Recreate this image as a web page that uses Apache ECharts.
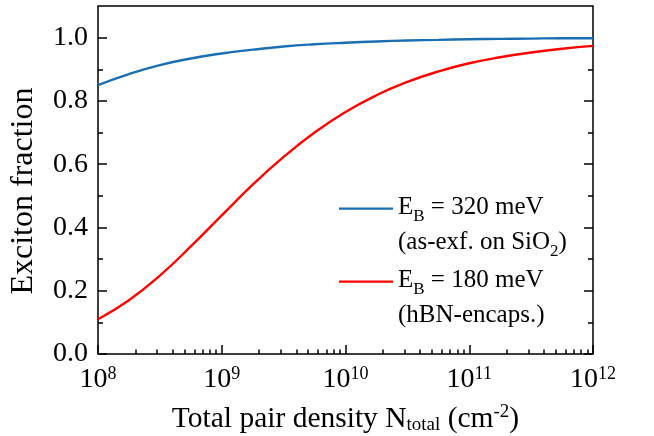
<!DOCTYPE html>
<html>
<head>
<meta charset="utf-8">
<script src="https://cdn.jsdelivr.net/npm/echarts@6/dist/echarts.min.js"></script>
<style>
html,body{margin:0;padding:0;background:#fff;}
#c{width:654px;height:436px;}
</style>
</head>
<body>
<div id="c"></div>
<script>
// Data
const density = [1e8, 1.778e8, 3.162e8, 5.623e8, 1e9, 1.778e9, 3.162e9, 5.623e9, 1e10, 1.778e10, 3.162e10, 5.623e10, 1e11, 1.778e11, 3.162e11, 5.623e11, 1e12];
const fracEB320 = [0.850, 0.885, 0.913, 0.934, 0.950, 0.962, 0.972, 0.979, 0.984, 0.988, 0.991, 0.993, 0.995, 0.996, 0.997, 0.998, 0.998];
const fracEB180 = [0.110, 0.170, 0.248, 0.340, 0.438, 0.535, 0.623, 0.700, 0.765, 0.818, 0.860, 0.893, 0.919, 0.938, 0.953, 0.965, 0.974];
const seriesNames = ['EB320', 'EB180'];
const yMajorTicks = [0, 0.2, 0.4, 0.6, 0.8, 1.0];
const yMinorTicks = [0.1, 0.3, 0.5, 0.7, 0.9];
const xMinorTicks = [];
[8, 9, 10, 11].forEach(function (e) { for (let k = 2; k <= 9; k++) xMinorTicks.push(k * Math.pow(10, e)); });

const FONT = '"Liberation Serif", "Times New Roman", serif';
const BLUE = '#1a6fb3';
const RED = '#ff0000';

const chart = echarts.init(document.getElementById('c'), null, {renderer: 'canvas'});
const gridRect = {left: 98, right: 61, top: 6, bottom: 82, containLabel: false, outerBoundsMode: 'none'};

const legendText = {
  EB320: 'E{sub|B} = 320 meV\n(as-exf. on SiO{sub|2})',
  EB180: 'E{sub|B} = 180 meV\n(hBN-encaps.)'
};

const option = {
  animation: false,
  backgroundColor: '#fff',
  textStyle: {fontFamily: FONT},
  grid: [
    Object.assign({show: true, borderColor: '#000', borderWidth: 1.5, backgroundColor: 'transparent'}, gridRect),
    Object.assign({show: false}, gridRect)
  ],
  legend: {
    orient: 'vertical',
    left: 339,
    top: 190,
    padding: 0,
    itemGap: 3,
    itemWidth: 54,
    itemHeight: 35,
    symbolKeepAspect: false,
    icon: 'path://M0,0L100,0L100,4L0,4Z M0,61L0.01,61L0.01,61.01L0,61.01Z',
    data: seriesNames,
    formatter: function (n) { return legendText[n]; },
    textStyle: {
      fontFamily: FONT, fontSize: 25, color: '#000', lineHeight: 35,
      rich: {
        sub: {fontFamily: FONT, fontSize: 17, color: '#000', lineHeight: 24, verticalAlign: 'bottom'}
      }
    }
  },
  xAxis: [
    {
      type: 'log', logBase: 10, gridIndex: 0, min: 1e8, max: 1e12, position: 'bottom',
      axisLine: {show: false},
      axisTick: {show: true, inside: true, length: 9, lineStyle: {color: '#000', width: 1.5}},
      splitLine: {show: false},
      axisLabel: {
        margin: 11, color: '#000',
        formatter: function (v) { return '{b|10}{s|' + Math.round(Math.log10(v)) + '}'; },
        rich: {
          b: {fontFamily: FONT, fontSize: 28, lineHeight: 30, color: '#000'},
          s: {fontFamily: FONT, fontSize: 18, lineHeight: 18, color: '#000', verticalAlign: 'top'}
        }
      },
      name: '{m|Total pair density N}{sub|total}{m| (cm}{sup|-2}{m|)}',
      nameLocation: 'middle',
      nameGap: 49,
      nameTextStyle: {
        rich: {
          m: {fontFamily: FONT, fontSize: 29.5, lineHeight: 32, color: '#000'},
          sub: {fontFamily: FONT, fontSize: 19, lineHeight: 20, color: '#000', verticalAlign: 'bottom'},
          sup: {fontFamily: FONT, fontSize: 19, lineHeight: 20, color: '#000', verticalAlign: 'top'}
        }
      }
    },
    {
      type: 'log', logBase: 10, gridIndex: 1, min: 1e8, max: 1e12, position: 'bottom',
      axisLine: {show: false},
      axisTick: {show: true, inside: true, length: 4.5, customValues: xMinorTicks, lineStyle: {color: '#000', width: 1.5}},
      axisLabel: {show: false},
      splitLine: {show: false}
    }
  ],
  yAxis: [
    {
      type: 'value', gridIndex: 0, min: 0, max: 1.1, position: 'left',
      axisLine: {show: false},
      axisTick: {show: true, inside: true, length: 9, customValues: yMajorTicks, lineStyle: {color: '#000', width: 1.5}},
      axisLabel: {
        customValues: yMajorTicks, margin: 10, color: '#000', fontFamily: FONT, fontSize: 28,
        formatter: function (v) { return v.toFixed(1); }
      },
      splitLine: {show: false},
      name: 'Exciton fraction',
      nameLocation: 'middle',
      nameGap: 58,
      nameTextStyle: {fontFamily: FONT, fontSize: 32, color: '#000', padding: [0, 22, 0, 0]}
    },
    {
      type: 'value', gridIndex: 0, min: 0, max: 1.1, position: 'right',
      axisLine: {show: false},
      axisTick: {show: true, inside: true, length: 9, customValues: yMajorTicks, lineStyle: {color: '#000', width: 1.5}},
      axisLabel: {show: false},
      splitLine: {show: false}
    },
    {
      type: 'value', gridIndex: 1, min: 0, max: 1.1, position: 'left',
      axisLine: {show: false},
      axisTick: {show: true, inside: true, length: 5, customValues: yMinorTicks, lineStyle: {color: '#000', width: 1.5}},
      axisLabel: {show: false},
      splitLine: {show: false}
    },
    {
      type: 'value', gridIndex: 1, min: 0, max: 1.1, position: 'right',
      axisLine: {show: false},
      axisTick: {show: true, inside: true, length: 5, customValues: yMinorTicks, lineStyle: {color: '#000', width: 1.5}},
      axisLabel: {show: false},
      splitLine: {show: false}
    }
  ],
  series: [
    {
      name: 'EB320', type: 'line', xAxisIndex: 0, yAxisIndex: 0,
      smooth: true, showSymbol: false, symbol: 'none',
      lineStyle: {color: BLUE, width: 2.4}, itemStyle: {color: BLUE},
      data: density.map(function (x, i) { return [x, fracEB320[i]]; })
    },
    {
      name: 'EB180', type: 'line', xAxisIndex: 0, yAxisIndex: 0,
      smooth: true, showSymbol: false, symbol: 'none',
      lineStyle: {color: RED, width: 2.4}, itemStyle: {color: RED},
      data: density.map(function (x, i) { return [x, fracEB180[i]]; })
    }
  ]
};
chart.setOption(option);
</script>
</body>
</html>
